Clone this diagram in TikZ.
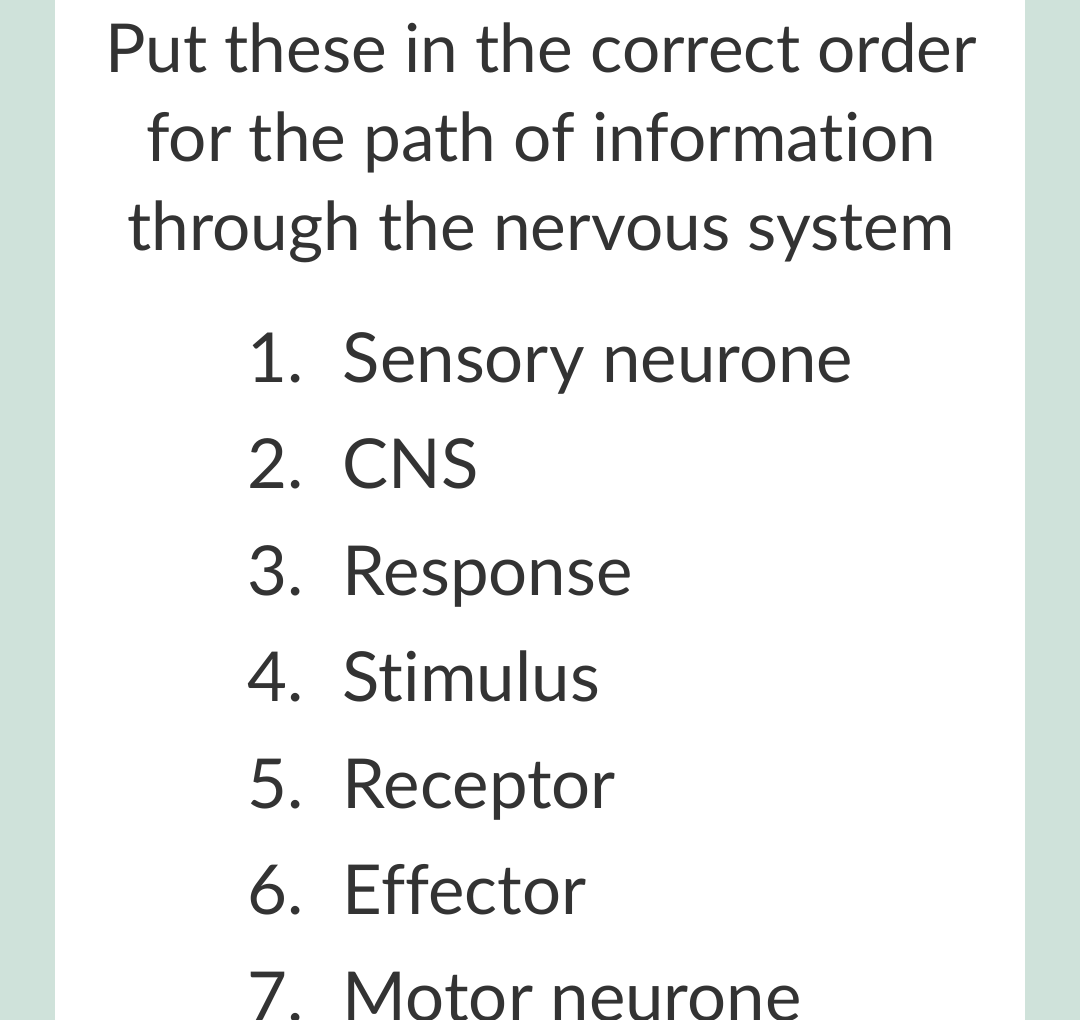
\documentclass[tikz,border=0pt]{standalone}
\usepackage{fontspec}
\setmainfont{Lato}[RawFeature={-liga;-dlig;-clig}]
\definecolor{bgmint}{HTML}{CFE2DA}
\definecolor{ink}{HTML}{333333}
\begin{document}
\begin{tikzpicture}[x=0.025cm, y=-0.025cm,
	title/.style={anchor=base, text=ink, font=\fontsize{48}{58}\selectfont},
	item/.style={anchor=base west, text=ink, font=\fontsize{49}{58}\selectfont}]
	\fill[bgmint] (0,0) rectangle (1080,1020);
	\fill[white] (55,0) rectangle (1025,1020);
	\useasboundingbox (0,0) rectangle (1080,1020);
	\node[title] (t1) at (541,72) {Put these in the correct order};
	\node[title] (t2) at (541,161) {for the path of information};
	\node[title] (t3) at (541,250) {through the nervous system};
	\foreach \n/\txt [count=\i] in {1/Sensory neurone, 2/CNS, 3/Response, 4/Stimulus, 5/Receptor, 6/Effector, 7/Motor neurone} {
		\node[item] (num\i) at (243,{382+(\i-1)*106.5}) {\n.};
		\node[item] (lbl\i) at (338,{382+(\i-1)*106.5}) {\txt};
	}
\end{tikzpicture}
\end{document}
